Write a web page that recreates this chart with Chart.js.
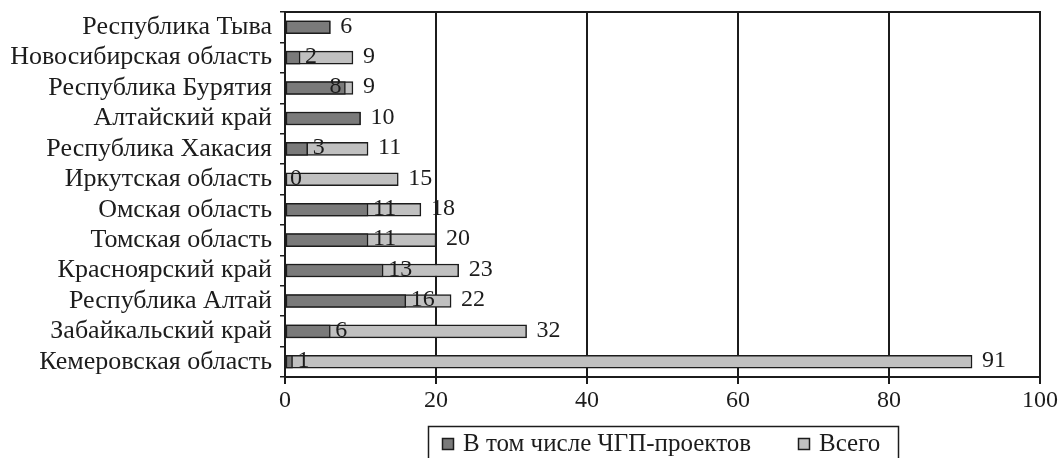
<!DOCTYPE html>
<html>
<head>
<meta charset="utf-8">
<script src="https://cdn.jsdelivr.net/npm/chart.js@4/dist/chart.umd.min.js"></script>
<style>
  html, body { margin: 0; padding: 0; background: #fff; }
  #wrap { width: 1061px; height: 458px; position: relative; }
</style>
</head>
<body>
<div id="wrap"><canvas id="c" width="1061" height="458"></canvas></div>
<script>
// Регионы Сибирского федерального округа (сверху вниз)
const regions = [
  'Республика Тыва',
  'Новосибирская область',
  'Республика Бурятия',
  'Алтайский край',
  'Республика Хакасия',
  'Иркутская область',
  'Омская область',
  'Томская область',
  'Красноярский край',
  'Республика Алтай',
  'Забайкальский край',
  'Кемеровская область'
];
// Число проектов: в том числе ЧГП и всего
const pppProjects = [6, 2, 8, 10, 3, 0, 11, 11, 13, 16, 6, 1];
const totalProjects = [6, 9, 9, 10, 11, 15, 18, 20, 23, 22, 32, 91];
const seriesNames = ['В том числе ЧГП-проектов', 'Всего'];
const xTicks = [0, 20, 40, 60, 80, 100];

const FONT = "'Liberation Serif', 'Times New Roman', serif";
const INK = '#1c1c1c';
const DARK = '#7a7a7a';
const LIGHT = '#c0c0c0';

// Value labels at the ends of bars
const valueLabels = {
  id: 'valueLabels',
  afterDatasetsDraw(chart) {
    const ctx = chart.ctx;
    const darkMeta = chart.getDatasetMeta(0);
    const totalMeta = chart.getDatasetMeta(1);
    ctx.save();
    ctx.font = '24px ' + FONT;
    ctx.fillStyle = INK;
    ctx.textBaseline = 'middle';
    regions.forEach((_, i) => {
      const tBar = totalMeta.data[i];
      const dBar = darkMeta.data[i];
      const y = tBar.y - 1;
      ctx.textAlign = 'left';
      ctx.fillText(String(totalProjects[i]), tBar.x + 10, y);
      if (pppProjects[i] !== totalProjects[i]) {
        const txt = String(pppProjects[i]);
        const w = ctx.measureText(txt).width;
        if (dBar.x + 5 + w > tBar.x) {
          ctx.textAlign = 'right';
          ctx.fillText(txt, dBar.x - 4, y);
        } else {
          ctx.textAlign = 'left';
          ctx.fillText(txt, dBar.x + 5, y);
        }
      }
    });
    ctx.restore();
  }
};

// Top edge of the plot frame and the framed legend below the axis
const frameAndLegend = {
  id: 'frameAndLegend',
  afterDraw(chart) {
    const ctx = chart.ctx;
    const a = chart.chartArea;
    ctx.save();
    ctx.strokeStyle = INK;
    ctx.lineWidth = 2;
    ctx.beginPath();
    ctx.moveTo(a.left, a.top);
    ctx.lineTo(a.right + 1, a.top);
    ctx.stroke();

    // legend frame
    ctx.lineWidth = 1.5;
    ctx.strokeRect(428.5, 426.5, 470, 50);

    const items = [
      { x: 442, color: DARK, text: seriesNames[0] },
      { x: 798, color: LIGHT, text: seriesNames[1] }
    ];
    ctx.font = '25px ' + FONT;
    ctx.textBaseline = 'middle';
    ctx.textAlign = 'left';
    items.forEach(it => {
      ctx.fillStyle = it.color;
      ctx.fillRect(it.x, 438, 12, 12);
      ctx.strokeStyle = INK;
      ctx.lineWidth = 1.5;
      ctx.strokeRect(it.x + 0.5, 438.5, 11, 11);
      ctx.fillStyle = INK;
      ctx.fillText(it.text, it.x + 21, 444);
    });
    ctx.restore();
  }
};

new Chart(document.getElementById('c'), {
  type: 'bar',
  data: {
    labels: regions,
    datasets: [
      {
        label: seriesNames[0],
        data: pppProjects,
        backgroundColor: DARK,
        borderColor: INK,
        borderWidth: 1.5,
        borderSkipped: false,
        barThickness: 13,
        order: 0
      },
      {
        label: seriesNames[1],
        data: totalProjects,
        backgroundColor: LIGHT,
        borderColor: INK,
        borderWidth: 1.5,
        borderSkipped: false,
        barThickness: 13,
        order: 1
      }
    ]
  },
  options: {
    indexAxis: 'y',
    responsive: false,
    animation: false,
    grouped: false,
    layout: { padding: { top: 12, right: 21, bottom: 41, left: 0 } },
    plugins: {
      legend: { display: false },
      tooltip: { enabled: false }
    },
    scales: {
      x: {
        type: 'linear',
        min: 0,
        max: 100,
        afterBuildTicks(scale) {
          scale.ticks = xTicks.map(v => ({ value: v }));
        },
        afterFit(scale) { scale.height = 40; },
        ticks: {
          font: { family: FONT, size: 24 },
          color: INK,
          padding: 2
        },
        grid: {
          color: INK,
          lineWidth: 2,
          tickLength: 7
        },
        border: { display: true, color: INK, width: 2 }
      },
      y: {
        afterFit(scale) {
          scale.width = 285;
          scale.paddingTop = 0;
          scale.paddingBottom = 0;
        },
        ticks: {
          font: { family: FONT, size: 26 },
          color: INK,
          padding: 8,
          autoSkip: false
        },
        grid: {
          offset: true,
          drawOnChartArea: false,
          color: INK,
          lineWidth: 1.5,
          tickLength: 5
        },
        border: { display: true, color: INK, width: 1.5 }
      }
    }
  },
  plugins: [valueLabels, frameAndLegend]
});
</script>
</body>
</html>
